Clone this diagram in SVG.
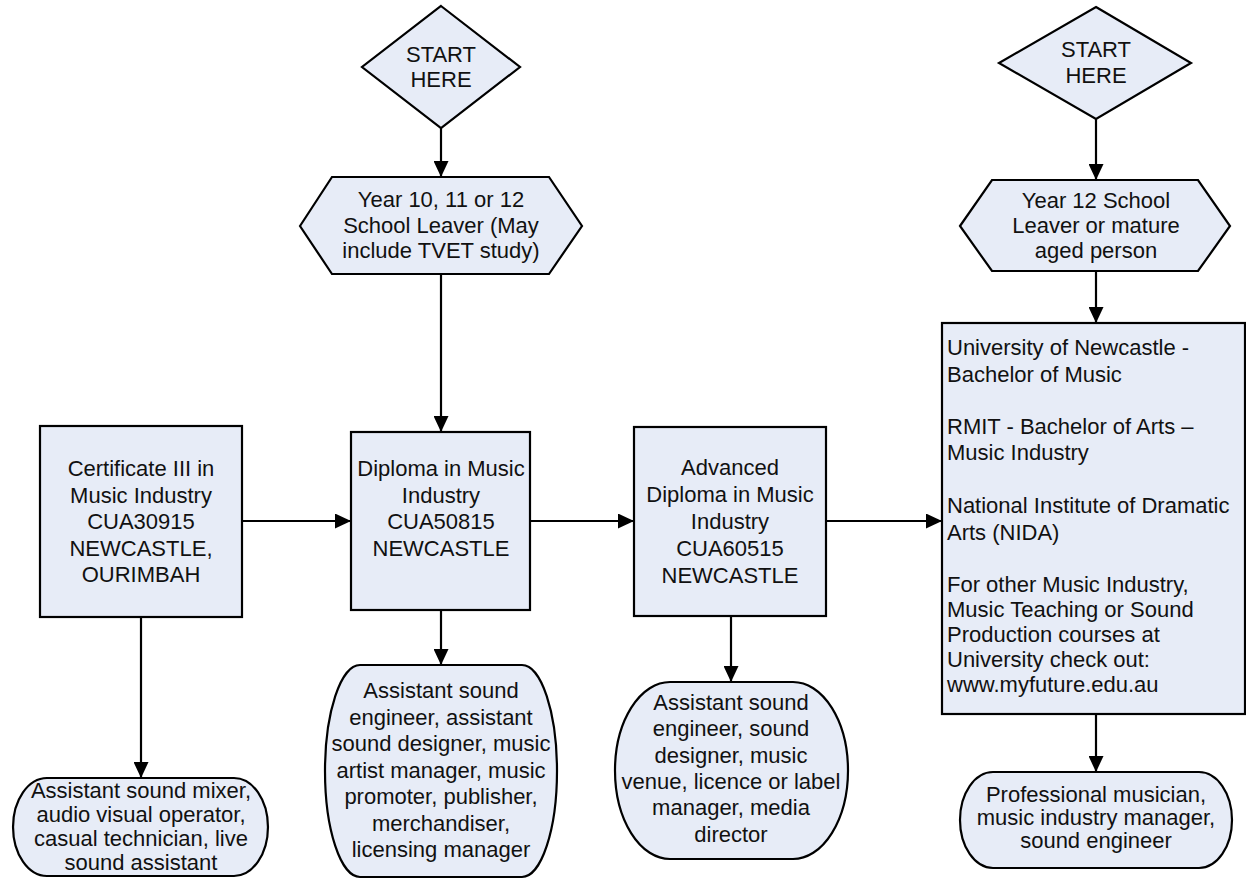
<svg xmlns="http://www.w3.org/2000/svg" width="1246" height="881" viewBox="0 0 1246 881">
<defs>
<style>
.shape{fill:#e7ecf7;stroke:#000;stroke-width:2.2;}
.t{font-family:"Liberation Sans",Arial,sans-serif;font-size:22px;fill:#111;text-anchor:middle;}
.tl{font-family:"Liberation Sans",Arial,sans-serif;font-size:22px;fill:#111;text-anchor:start;}
.c{stroke:#000;stroke-width:2.2;fill:none;marker-end:url(#ah);}
</style>
<marker id="ah" markerUnits="userSpaceOnUse" markerWidth="16" markerHeight="15" refX="16" refY="7.5" orient="auto">
<path d="M0,0 L16,7.5 L0,15 Z" fill="#000"/>
</marker>
</defs>
<rect width="1246" height="881" fill="#fff"/>

<g id="connectors">
<line class="c" x1="441" y1="128" x2="441" y2="177"/>
<line class="c" x1="441" y1="274" x2="441" y2="432"/>
<line class="c" x1="1096" y1="119" x2="1096" y2="180"/>
<line class="c" x1="1096" y1="271" x2="1096" y2="323"/>
<line class="c" x1="242" y1="521" x2="351" y2="521"/>
<line class="c" x1="530" y1="521" x2="634" y2="521"/>
<line class="c" x1="826" y1="521" x2="942" y2="521"/>
<line class="c" x1="141" y1="617" x2="141" y2="778"/>
<line class="c" x1="441" y1="610" x2="441" y2="665"/>
<line class="c" x1="731" y1="616" x2="731" y2="682"/>
<line class="c" x1="1096" y1="714" x2="1096" y2="772"/>
</g>

<g id="start1">
<polygon class="shape" points="441,6 520,67 441,128 362,67"/>
<text class="t" x="441" y="62">START</text>
<text class="t" x="441" y="87">HERE</text>
</g>

<g id="start2">
<polygon class="shape" points="1096,7 1191,63 1096,119 999,63"/>
<text class="t" x="1096" y="57">START</text>
<text class="t" x="1096" y="83">HERE</text>
</g>

<g id="leaver1">
<polygon class="shape" points="300,226 332,177 549,177 582,226 549,274 332,274"/>
<text class="t" x="441" y="207">Year 10, 11 or 12</text>
<text class="t" x="441" y="233">School Leaver (May</text>
<text class="t" x="441" y="258">include TVET study)</text>
</g>

<g id="leaver2">
<polygon class="shape" points="960,226 992,180 1198,180 1230,226 1198,271 992,271"/>
<text class="t" x="1096" y="208">Year 12 School</text>
<text class="t" x="1096" y="233">Leaver or mature</text>
<text class="t" x="1096" y="258">aged person</text>
</g>

<g id="cert3">
<rect class="shape" x="40" y="426" width="202" height="191"/>
<text class="t" x="141" y="476">Certificate III in</text>
<text class="t" x="141" y="502.5">Music Industry</text>
<text class="t" x="141" y="529">CUA30915</text>
<text class="t" x="141" y="555.5">NEWCASTLE,</text>
<text class="t" x="141" y="582">OURIMBAH</text>
</g>

<g id="diploma">
<rect class="shape" x="351" y="432" width="179" height="178"/>
<text class="t" x="441" y="476">Diploma in Music</text>
<text class="t" x="441" y="502.5">Industry</text>
<text class="t" x="441" y="529">CUA50815</text>
<text class="t" x="441" y="555.5">NEWCASTLE</text>
</g>

<g id="advdiploma">
<rect class="shape" x="634" y="427" width="192" height="189"/>
<text class="t" x="730" y="475">Advanced</text>
<text class="t" x="730" y="502">Diploma in Music</text>
<text class="t" x="730" y="528.5">Industry</text>
<text class="t" x="730" y="555.5">CUA60515</text>
<text class="t" x="730" y="582.5">NEWCASTLE</text>
</g>

<g id="university">
<rect class="shape" x="942" y="323" width="303" height="391"/>
<text class="tl" x="947" y="355">University of Newcastle -</text>
<text class="tl" x="947" y="382">Bachelor of Music</text>
<text class="tl" x="947" y="434">RMIT - Bachelor of Arts –</text>
<text class="tl" x="947" y="460">Music Industry</text>
<text class="tl" x="947" y="513">National Institute of Dramatic</text>
<text class="tl" x="947" y="540">Arts (NIDA)</text>
<text class="tl" x="947" y="592">For other Music Industry,</text>
<text class="tl" x="947" y="617">Music Teaching or Sound</text>
<text class="tl" x="947" y="642">Production courses at</text>
<text class="tl" x="947" y="667">University check out:</text>
<text class="tl" x="947" y="692">www.myfuture.edu.au</text>
</g>

<g id="jobs1">
<path class="shape" d="M47,778 H234 A34,49 0 0 1 234,876 H47 A34,49 0 0 1 47,778 Z"/>
<text class="t" x="141" y="798">Assistant sound mixer,</text>
<text class="t" x="141" y="822">audio visual operator,</text>
<text class="t" x="141" y="846">casual technician, live</text>
<text class="t" x="141" y="870">sound assistant</text>
</g>

<g id="jobs2">
<path class="shape" d="M360,665 H522 A35,106 0 0 1 522,877 H360 A35,106 0 0 1 360,665 Z"/>
<text class="t" x="441" y="698">Assistant sound</text>
<text class="t" x="441" y="724.5">engineer, assistant</text>
<text class="t" x="441" y="751">sound designer, music</text>
<text class="t" x="441" y="777.5">artist manager, music</text>
<text class="t" x="441" y="804">promoter, publisher,</text>
<text class="t" x="441" y="830.5">merchandiser,</text>
<text class="t" x="441" y="857">licensing manager</text>
</g>

<g id="jobs3">
<path class="shape" d="M670,682 H793 A55,88.5 0 0 1 793,859 H670 A55,88.5 0 0 1 670,682 Z"/>
<text class="t" x="731" y="710">Assistant sound</text>
<text class="t" x="731" y="736.3">engineer, sound</text>
<text class="t" x="731" y="762.6">designer, music</text>
<text class="t" x="731" y="788.9">venue, licence or label</text>
<text class="t" x="731" y="815.2">manager, media</text>
<text class="t" x="731" y="841.5">director</text>
</g>

<g id="jobs4">
<path class="shape" d="M993,772 H1199 A33,48 0 0 1 1199,868 H993 A33,48 0 0 1 993,772 Z"/>
<text class="t" x="1096" y="802">Professional musician,</text>
<text class="t" x="1096" y="825">music industry manager,</text>
<text class="t" x="1096" y="848">sound engineer</text>
</g>
</svg>
